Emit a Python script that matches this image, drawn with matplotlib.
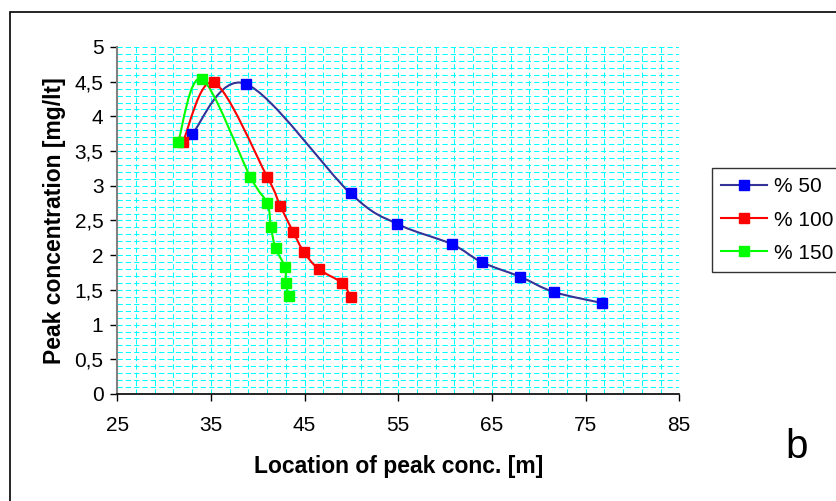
import numpy as np
import matplotlib.pyplot as plt
from matplotlib.path import Path
from matplotlib.patches import PathPatch, Rectangle
from matplotlib.lines import Line2D

plt.rcParams['font.family'] = ['Liberation Sans', 'DejaVu Sans']

# peak location [m] and peak concentration [mg/lt] for each case
x50 = [33.0, 38.7, 49.9, 54.9, 60.7, 63.9, 68.0, 71.6, 76.8]
y50 = [3.75, 4.47, 2.89, 2.45, 2.16, 1.90, 1.69, 1.47, 1.31]
x100 = [32.0, 35.3, 41.0, 42.4, 43.8, 44.9, 46.5, 49.0, 49.9]
y100 = [3.63, 4.49, 3.13, 2.71, 2.33, 2.05, 1.80, 1.60, 1.40]
x150 = [31.5, 34.0, 39.2, 41.0, 41.4, 41.9, 42.9, 43.0, 43.3]
y150 = [3.63, 4.54, 3.13, 2.75, 2.41, 2.10, 1.83, 1.60, 1.41]

labels = ['% 50', '% 100', '% 150']
line_colors = ['#333399', '#ff0000', '#00ff00']
marker_colors = ['#0000ff', '#ff0000', '#00ff00']

x_ticks = [25, 35, 45, 55, 65, 75, 85]
y_ticks = [0, 0.5, 1, 1.5, 2, 2.5, 3, 3.5, 4, 4.5, 5]
y_tick_labels = ['0', '0,5', '1', '1,5', '2', '2,5', '3', '3,5', '4', '4,5', '5']


def smooth_path(xs, ys):
    # bezier segments through the points (catmull-rom style control points)
    p = np.column_stack([xs, ys])
    n = len(p)
    verts = [p[0]]
    codes = [Path.MOVETO]
    for i in range(n - 1):
        p0 = p[max(i - 1, 0)]
        p1 = p[i]
        p2 = p[i + 1]
        p3 = p[min(i + 2, n - 1)]
        c1 = p1 + (p2 - p0) / 6.0
        c2 = p2 - (p3 - p1) / 6.0
        verts += [c1, c2, p2]
        codes += [Path.CURVE4] * 3
    return Path(verts, codes)


fig = plt.figure(figsize=(8.36, 5.01), dpi=100)
ax = fig.add_axes([0.1403, 0.2136, 0.6722, 0.6926])

ax.set_xlim(25, 85)
ax.set_ylim(0, 5)

# dashed cyan grid
for gx in np.arange(27, 85, 2):
    ax.axvline(gx, color='#00ffff', lw=0.75, ls=(0, (5, 3)), zorder=0)
for gy in np.arange(0.1, 5.01, 0.1):
    ax.axhline(gy, color='#00ffff', lw=0.75, ls=(0, (5, 3)), zorder=0)

series = [(x50, y50), (x100, y100), (x150, y150)]
for (xs, ys), lc, mc in zip(series, line_colors, marker_colors):
    ax.add_patch(PathPatch(smooth_path(xs, ys), facecolor='none',
                           edgecolor=lc, lw=1.5, zorder=2))
    ax.plot(xs, ys, ls='none', marker='s', ms=6.5, mfc=mc, mec=mc, zorder=3)

ax.set_xticks(x_ticks)
ax.set_yticks(y_ticks)
ax.set_yticklabels(y_tick_labels)
ax.tick_params(labelsize=15, length=5, width=1, direction='out')
ax.tick_params(axis='x', pad=11)
ax.tick_params(axis='y', pad=5)
for s in ['top', 'right']:
    ax.spines[s].set_visible(False)
ax.spines['left'].set_color('#808080')
ax.spines['left'].set_linewidth(1.5)
ax.spines['bottom'].set_color('black')
ax.spines['bottom'].set_linewidth(1.2)

ax.set_xlabel('Location of peak conc. [m]', fontsize=16.5, fontweight='bold', labelpad=14)
ax.set_ylabel('Peak concentration [mg/lt]', fontsize=16.5, fontweight='bold', labelpad=6)

handles = [Line2D([], [], color=lc, lw=1.5, marker='s', ms=6.5, mfc=mc, mec=mc)
           for lc, mc in zip(line_colors, marker_colors)]
leg = fig.legend(handles, labels, loc='upper left',
                 bbox_to_anchor=(712 / 836, 1 - 168 / 501),
                 fontsize=15, frameon=True, fancybox=False,
                 edgecolor='black', handlelength=2.2, handletextpad=0.35,
                 labelspacing=0.68, borderpad=0.45, borderaxespad=0)
leg.get_frame().set_linewidth(1.0)

fig.text(797 / 836, 1 - 447 / 501, 'b', fontsize=29, ha='center', va='center')

# outer chart frame
fig.patches.append(Rectangle((10 / 836, -0.1), 1.1, 1 - 12 / 501 + 0.1,
                             transform=fig.transFigure, fill=False,
                             edgecolor='black', lw=1.2))

fig.savefig('out.png', dpi=100)
